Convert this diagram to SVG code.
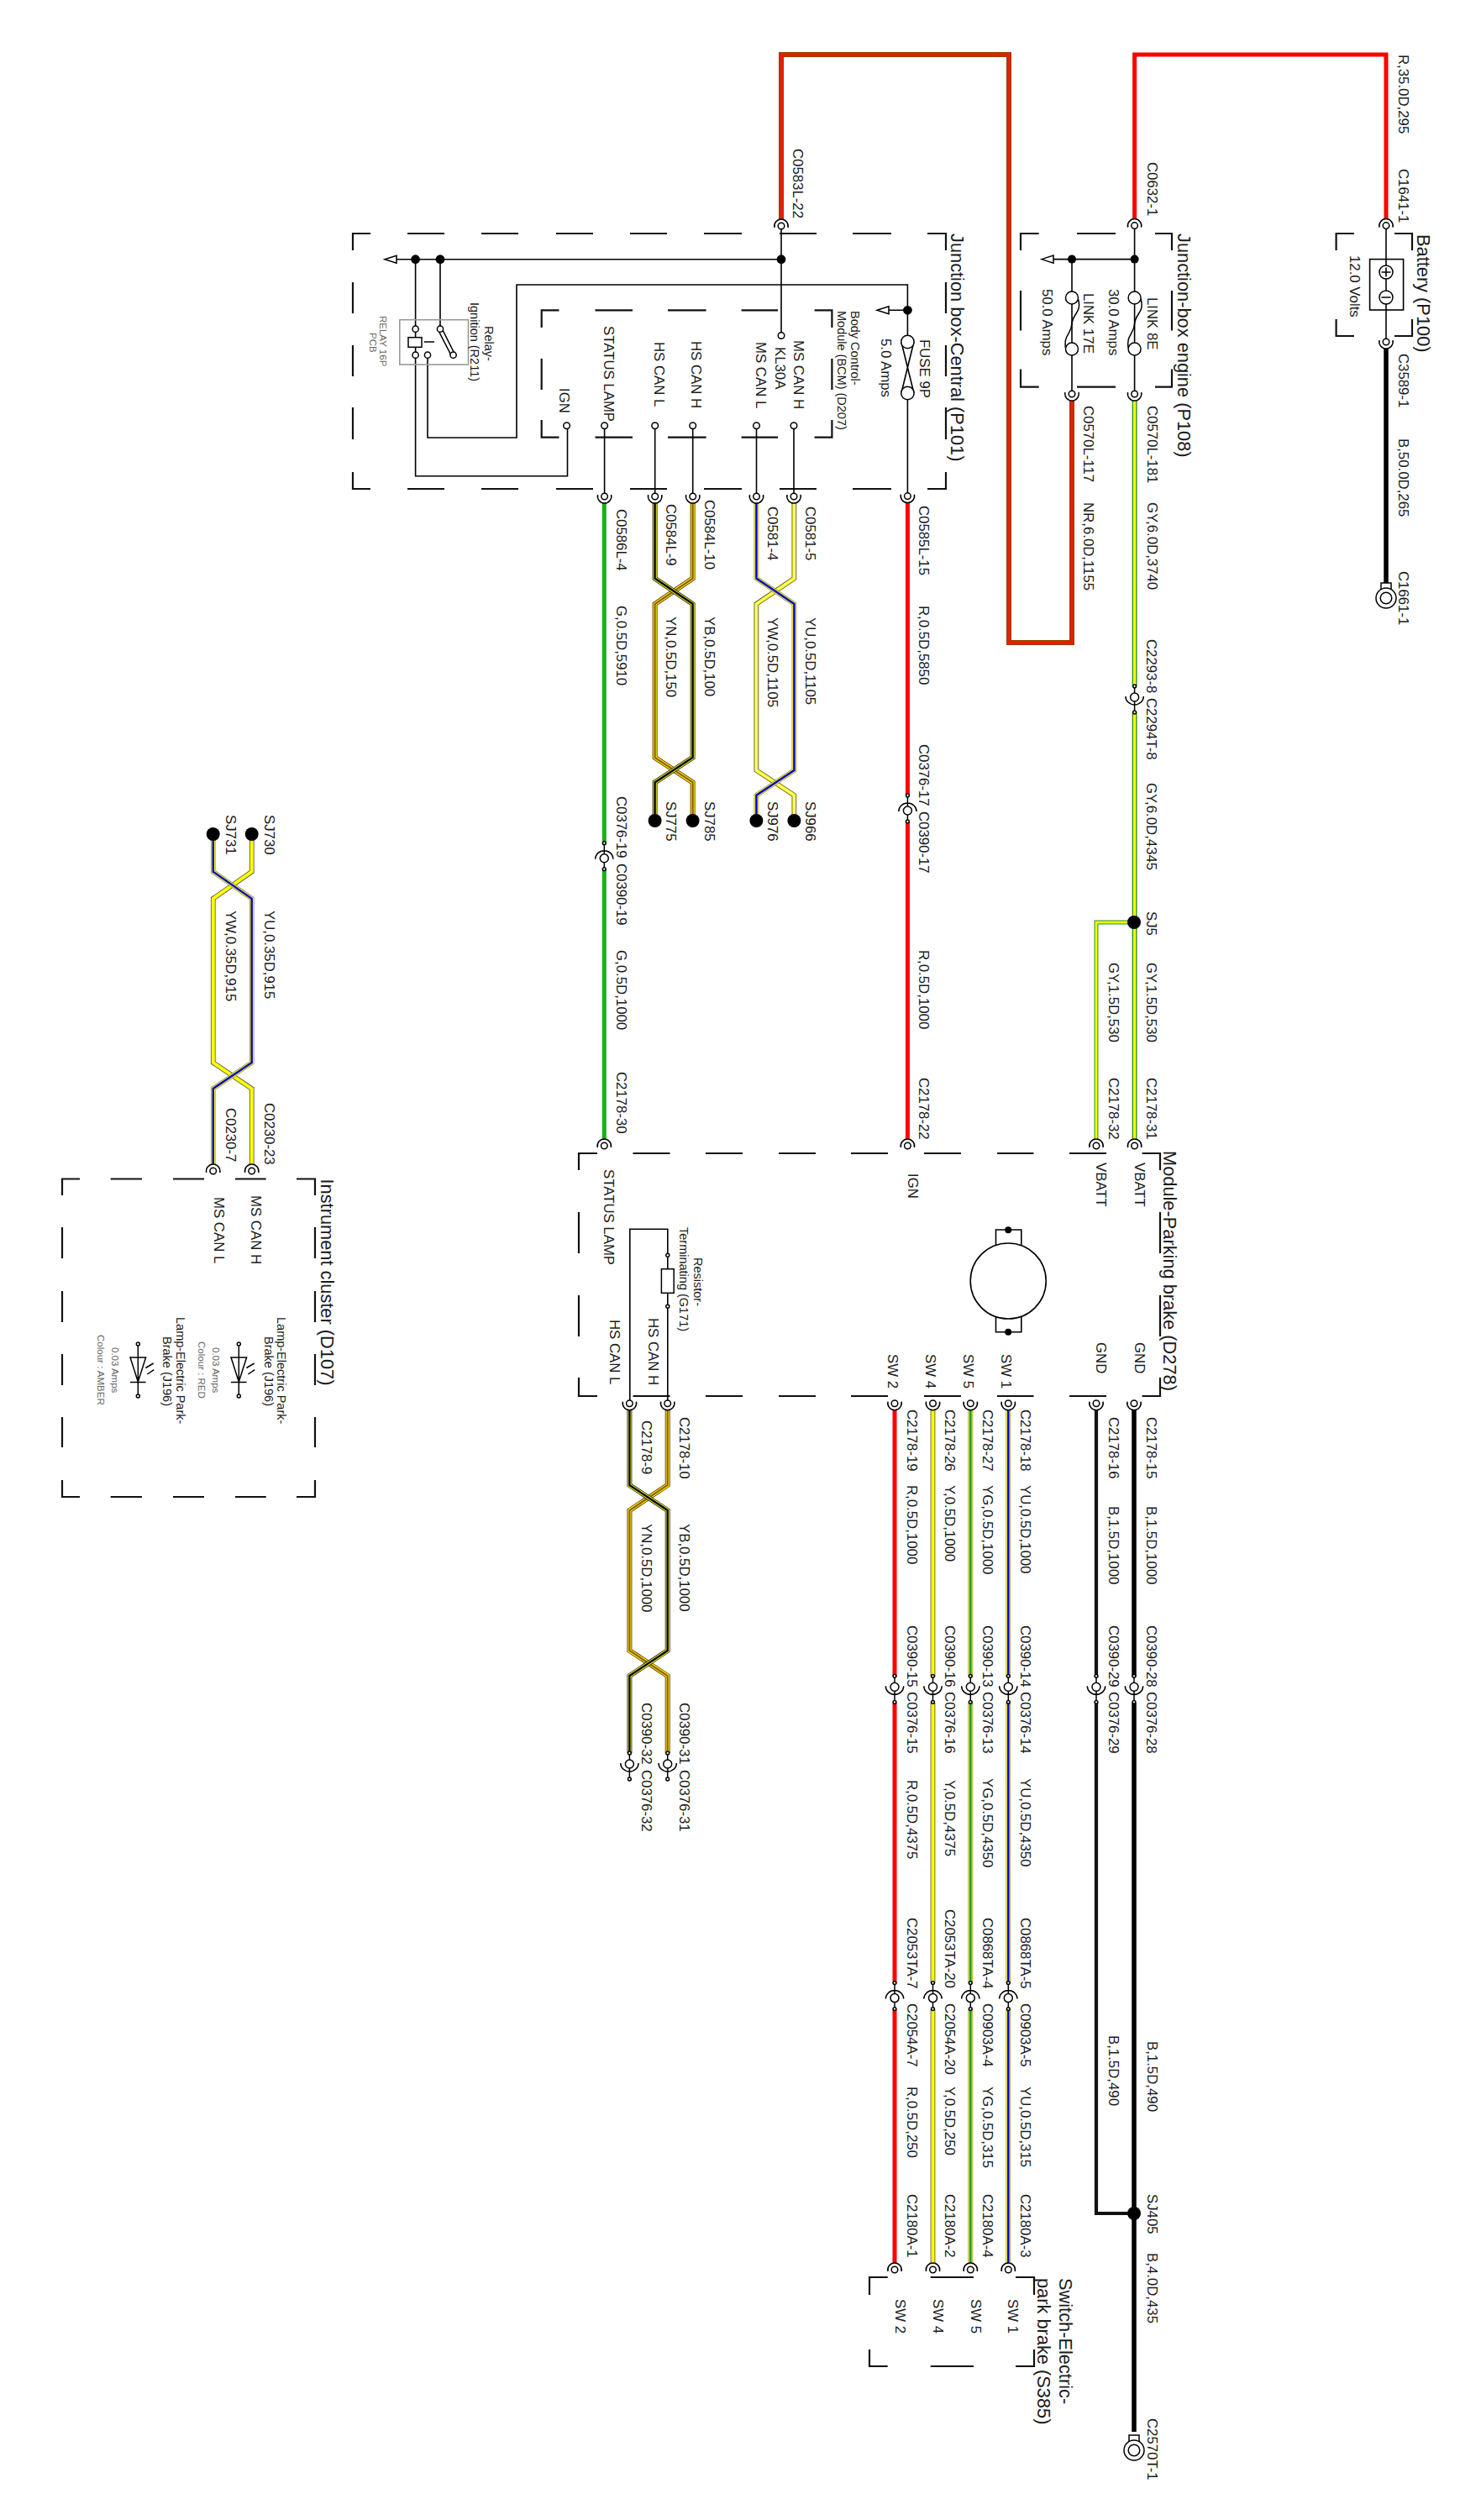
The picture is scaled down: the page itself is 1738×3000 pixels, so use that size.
<svg xmlns="http://www.w3.org/2000/svg" xmlns:xlink="http://www.w3.org/1999/xlink" width="1738" height="3000" viewBox="0 0 1738 3000">
<style>
text{font-family:"Liberation Sans",Arial,sans-serif;font-size:16.8px;fill:#1a1a1a}
text.h{font-size:21.8px}
text.s{font-size:14.5px}
text.n{font-size:11.5px;fill:#666}
.w{fill:none;stroke-linejoin:miter}
.box{fill:none;stroke:#111;stroke-width:2.2}
.thin{fill:none;stroke:#000;stroke-width:1.6}
.sym{fill:none;stroke:#000;stroke-width:1.5}
.sym circle,.t{fill:#fff;stroke:#000;stroke-width:1.5}
.dot{fill:#000}
.r{stroke:#f00;stroke-width:5}
.g{stroke:#18b018;stroke-width:5}
.bk{stroke:#000;stroke-width:5.5}
.bk4{stroke:#111;stroke-width:4.2}
.nr0{stroke:#7a4a00;stroke-width:6}.nr1{stroke:#e42000;stroke-width:4.4}
.gy0{stroke:#3f9a22;stroke-width:6}.gy1{stroke:#ff0;stroke-width:3}
.gs0{stroke:#4aa02a;stroke-width:5}.gs1{stroke:#ff0;stroke-width:2.6}
.y0{stroke:#333;stroke-width:5.6}.y1{stroke:#ff0;stroke-width:4.2}.y2{stroke:#ffffb0;stroke-width:1.4}
.yg0{stroke:#999;stroke-width:6}.yg1{stroke:#e6e600;stroke-width:4.6}.yg2{stroke:#16a016;stroke-width:2.4}
.yu0{stroke:#777;stroke-width:5.6}.yu1{stroke:#ff0;stroke-width:4.4}.yu2{stroke:#0000e0;stroke-width:2.4}
.yb2{stroke:#000;stroke-width:2.4}
.yn0{stroke:#5a4000;stroke-width:6}.yn2{stroke:#965a00;stroke-width:2.2}
.yb0{stroke:#333;stroke-width:6}
</style>
<defs>
<g id="cu" class="sym"><path d="M-8 2A8.2 8.2 0 1 1 8 2"/><circle r="3.8"/></g>
<g id="cd" class="sym"><path d="M-8 -2A8.2 8.2 0 1 0 8 -2"/><circle r="3.8"/></g>
<g id="iu" class="sym"><path d="M0 -18V13M-10.7 1A10.7 10 0 0 1 10.7 1"/><circle r="5"/><circle cy="-18" r="1.9"/><circle cy="13" r="1.9"/></g>
<g id="id" class="sym"><path d="M0 -13V18M-10.7 -1A10.7 10 0 0 0 10.7 -1"/><circle r="5"/><circle cy="-13" r="1.9"/><circle cy="18" r="1.9"/></g>
<path id="arr" class="t" d="M0 0L14 -4.5V4.5Z"/>
<g id="lug" class="sym"><rect x="-6" y="0" width="12" height="8"/><circle cy="18" r="12"/><circle cy="18" r="6.8"/></g>
<g id="led" class="sym"><path d="M0 1600V1662M-9.3 1616H9.3L0 1645ZM-9.3 1645.6H9.3M9 1628.5L18.4 1623M11 1636L19 1630.6"/><circle cy="1600" r="2"/><circle cy="1662" r="2"/></g>
<g id="fl" class="sym"><path d="M7.5 1.5C12 18 1 18 0 31C-1 44 -10 44 -7.5 60"/><circle r="7.5"/><circle cy="61" r="7.5"/></g>
<path id="p1" d="M779.6 599V688.6L824.6 719V901.8L779.6 931.4V977"/>
<path id="p2" d="M824.6 599V688.6L779.6 719V901.8L824.6 931.4V977"/>
<path id="p3" d="M900.4 599V688.6L945.4 719V917L900.4 946.7V977"/>
<path id="p4" d="M945.4 599V688.6L900.4 719V917L945.4 946.7V977"/>
<path id="p5" d="M749.4 1679V1768L794.7 1798V1965L749.4 1995V2087"/>
<path id="p6" d="M794.7 1679V1768L749.4 1798V1965L794.7 1995V2087"/>
<path id="p7" d="M253.7 1386V1296L299.7 1265V1069.8L253.7 1037.7V993"/>
<path id="p8" d="M299.7 1386V1296L253.7 1265V1069.8L299.7 1037.7V993"/>
</defs>

<g id="connectors">
<path class="w r" d="M1350.6 261V65H1650V261"/>
<path class="w bk" d="M1650 415V694"/>
<path class="w nr0" d="M930 261V65H1201V765H1276V477"/><path class="w nr1" d="M930 261V65H1201V765H1276V477"/>
<path class="w gy0" d="M1350.6 477V817M1350.6 848V1356"/><path class="w gy1" d="M1350.6 477V817M1350.6 848V1356"/>
<path class="w gs0" d="M1350 1098H1305V1356"/><path class="w gs1" d="M1350 1098H1305V1356"/>
<path class="w r" d="M1080.4 598V947M1080.4 978V1356"/>
<path class="w g" d="M719.3 599V1003.7M719.3 1034.4V1356"/>
<use href="#p2" class="w yn0"/><use href="#p2" class="w y1"/><use href="#p2" class="w yn2"/>
<use href="#p1" class="w yb0"/><use href="#p1" class="w y1"/><use href="#p1" class="w yb2"/>
<use href="#p4" class="w y0"/><use href="#p4" class="w y1"/><use href="#p4" class="w y2"/>
<use href="#p3" class="w yu0"/><use href="#p3" class="w yu1"/><use href="#p3" class="w yu2"/>
<use href="#p6" class="w yn0"/><use href="#p6" class="w y1"/><use href="#p6" class="w yn2"/>
<use href="#p5" class="w yb0"/><use href="#p5" class="w y1"/><use href="#p5" class="w yb2"/>
<use href="#p8" class="w y0"/><use href="#p8" class="w y1"/>
<use href="#p7" class="w yu0"/><use href="#p7" class="w yu1"/><use href="#p7" class="w yu2"/>
<path class="w r" d="M1065 1679V1996M1065 2027V2361M1065 2392V2694"/>
<path class="w y0" d="M1110.5 1679V1996M1110.5 2027V2361M1110.5 2392V2694"/><path class="w y1" d="M1110.5 1679V1996M1110.5 2027V2361M1110.5 2392V2694"/>
<path class="w yg0" d="M1155.3 1679V1996M1155.3 2027V2361M1155.3 2392V2694"/><path class="w yg1" d="M1155.3 1679V1996M1155.3 2027V2361M1155.3 2392V2694"/><path class="w yg2" d="M1155.3 1679V1996M1155.3 2027V2361M1155.3 2392V2694"/>
<path class="w yu0" d="M1200.3 1679V1996M1200.3 2027V2361M1200.3 2392V2694"/><path class="w yu1" d="M1200.3 1679V1996M1200.3 2027V2361M1200.3 2392V2694"/><path class="w yu2" d="M1200.3 1679V1996M1200.3 2027V2361M1200.3 2392V2694"/>
<path class="w bk4" d="M1305 1679V1996M1305 2027V2635H1350"/>
<path class="w bk" d="M1350 1679V1996M1350 2027V2895"/>
</g>

<g id="wire-labels">
<text x="1665" y="65" transform="rotate(90 1665 65)">R,35.0D,295</text>
<text x="1665" y="201" transform="rotate(90 1665 201)">C1641-1</text>
<text x="1665" y="421" transform="rotate(90 1665 421)">C3589-1</text>
<text x="1665" y="522" transform="rotate(90 1665 522)">B,50.0D,265</text>
<text x="1665" y="680" transform="rotate(90 1665 680)">C1661-1</text>
<text x="1366" y="193" transform="rotate(90 1366 193)">C0632-1</text>
<text x="1366" y="483" transform="rotate(90 1366 483)">C0570L-181</text>
<text x="1366" y="598" transform="rotate(90 1366 598)">GY,6.0D,3740</text>
<text x="1290" y="483" transform="rotate(90 1290 483)">C0570L-117</text>
<text x="1290" y="598" transform="rotate(90 1290 598)">NR,6.0D,1155</text>
<text x="944" y="177" transform="rotate(90 944 177)">C0583L-22</text>
<text x="1365" y="761" transform="rotate(90 1365 761)">C2293-8</text>
<text x="1365" y="831" transform="rotate(90 1365 831)">C2294T-8</text>
<text x="1365" y="932" transform="rotate(90 1365 932)">GY,6.0D,4345</text>
<text x="1365" y="1085" transform="rotate(90 1365 1085)">SJ5</text>
<text x="1365" y="1146" transform="rotate(90 1365 1146)">GY,1.5D,530</text>
<text x="1365" y="1283" transform="rotate(90 1365 1283)">C2178-31</text>
<text x="1320" y="1146" transform="rotate(90 1320 1146)">GY,1.5D,530</text>
<text x="1320" y="1283" transform="rotate(90 1320 1283)">C2178-32</text>
<text x="1094" y="602" transform="rotate(90 1094 602)">C0585L-15</text>
<text x="1094" y="721" transform="rotate(90 1094 721)">R,0.5D,5850</text>
<text x="1094" y="886" transform="rotate(90 1094 886)">C0376-17</text>
<text x="1094" y="966" transform="rotate(90 1094 966)">C0390-17</text>
<text x="1094" y="1131" transform="rotate(90 1094 1131)">R,0.5D,1000</text>
<text x="1094" y="1283" transform="rotate(90 1094 1283)">C2178-22</text>
<text x="734" y="606" transform="rotate(90 734 606)">C0586L-4</text>
<text x="734" y="721" transform="rotate(90 734 721)">G,0.5D,5910</text>
<text x="734" y="948" transform="rotate(90 734 948)">C0376-19</text>
<text x="734" y="1028" transform="rotate(90 734 1028)">C0390-19</text>
<text x="734" y="1131" transform="rotate(90 734 1131)">G,0.5D,1000</text>
<text x="734" y="1276" transform="rotate(90 734 1276)">C2178-30</text>
<text x="793" y="600" transform="rotate(90 793 600)">C0584L-9</text>
<text x="793" y="734" transform="rotate(90 793 734)">YN,0.5D,150</text>
<text x="793" y="954" transform="rotate(90 793 954)">SJ775</text>
<text x="839" y="595" transform="rotate(90 839 595)">C0584L-10</text>
<text x="839" y="734" transform="rotate(90 839 734)">YB,0.5D,100</text>
<text x="839" y="954" transform="rotate(90 839 954)">SJ785</text>
<text x="914" y="603" transform="rotate(90 914 603)">C0581-4</text>
<text x="914" y="735" transform="rotate(90 914 735)">YW,0.5D,1105</text>
<text x="914" y="954" transform="rotate(90 914 954)">SJ976</text>
<text x="959" y="603" transform="rotate(90 959 603)">C0581-5</text>
<text x="959" y="735" transform="rotate(90 959 735)">YU,0.5D,1105</text>
<text x="959" y="954" transform="rotate(90 959 954)">SJ966</text>
<text x="1365" y="1687" transform="rotate(90 1365 1687)">C2178-15</text>
<text x="1365" y="1793" transform="rotate(90 1365 1793)">B,1.5D,1000</text>
<text x="1365" y="1935" transform="rotate(90 1365 1935)">C0390-28</text>
<text x="1365" y="2014" transform="rotate(90 1365 2014)">C0376-28</text>
<text x="1320" y="1687" transform="rotate(90 1320 1687)">C2178-16</text>
<text x="1320" y="1793" transform="rotate(90 1320 1793)">B,1.5D,1000</text>
<text x="1320" y="1935" transform="rotate(90 1320 1935)">C0390-29</text>
<text x="1320" y="2014" transform="rotate(90 1320 2014)">C0376-29</text>
<text x="1215" y="1678" transform="rotate(90 1215 1678)">C2178-18</text>
<text x="1215" y="1768" transform="rotate(90 1215 1768)">YU,0.5D,1000</text>
<text x="1215" y="1935" transform="rotate(90 1215 1935)">C0390-14</text>
<text x="1215" y="2014" transform="rotate(90 1215 2014)">C0376-14</text>
<text x="1215" y="2117" transform="rotate(90 1215 2117)">YU,0.5D,4350</text>
<text x="1215" y="2283" transform="rotate(90 1215 2283)">C0868TA-5</text>
<text x="1215" y="2385" transform="rotate(90 1215 2385)">C0903A-5</text>
<text x="1215" y="2484" transform="rotate(90 1215 2484)">YU,0.5D,315</text>
<text x="1215" y="2612" transform="rotate(90 1215 2612)">C2180A-3</text>
<text x="1170" y="1678" transform="rotate(90 1170 1678)">C2178-27</text>
<text x="1170" y="1768" transform="rotate(90 1170 1768)">YG,0.5D,1000</text>
<text x="1170" y="1935" transform="rotate(90 1170 1935)">C0390-13</text>
<text x="1170" y="2014" transform="rotate(90 1170 2014)">C0376-13</text>
<text x="1170" y="2117" transform="rotate(90 1170 2117)">YG,0.5D,4350</text>
<text x="1170" y="2283" transform="rotate(90 1170 2283)">C0868TA-4</text>
<text x="1170" y="2385" transform="rotate(90 1170 2385)">C0903A-4</text>
<text x="1170" y="2484" transform="rotate(90 1170 2484)">YG,0.5D,315</text>
<text x="1170" y="2612" transform="rotate(90 1170 2612)">C2180A-4</text>
<text x="1125" y="1678" transform="rotate(90 1125 1678)">C2178-26</text>
<text x="1125" y="1768" transform="rotate(90 1125 1768)">Y,0.5D,1000</text>
<text x="1125" y="1935" transform="rotate(90 1125 1935)">C0390-16</text>
<text x="1125" y="2014" transform="rotate(90 1125 2014)">C0376-16</text>
<text x="1125" y="2119" transform="rotate(90 1125 2119)">Y,0.5D,4375</text>
<text x="1125" y="2273" transform="rotate(90 1125 2273)">C2053TA-20</text>
<text x="1125" y="2385" transform="rotate(90 1125 2385)">C2054A-20</text>
<text x="1125" y="2484" transform="rotate(90 1125 2484)">Y,0.5D,250</text>
<text x="1125" y="2612" transform="rotate(90 1125 2612)">C2180A-2</text>
<text x="1080" y="1678" transform="rotate(90 1080 1678)">C2178-19</text>
<text x="1080" y="1768" transform="rotate(90 1080 1768)">R,0.5D,1000</text>
<text x="1080" y="1935" transform="rotate(90 1080 1935)">C0390-15</text>
<text x="1080" y="2014" transform="rotate(90 1080 2014)">C0376-15</text>
<text x="1080" y="2119" transform="rotate(90 1080 2119)">R,0.5D,4375</text>
<text x="1080" y="2283" transform="rotate(90 1080 2283)">C2053TA-7</text>
<text x="1080" y="2385" transform="rotate(90 1080 2385)">C2054A-7</text>
<text x="1080" y="2484" transform="rotate(90 1080 2484)">R,0.5D,250</text>
<text x="1080" y="2612" transform="rotate(90 1080 2612)">C2180A-1</text>
<text x="809" y="1687" transform="rotate(90 809 1687)">C2178-10</text>
<text x="809" y="1814" transform="rotate(90 809 1814)">YB,0.5D,1000</text>
<text x="809" y="2027" transform="rotate(90 809 2027)">C0390-31</text>
<text x="809" y="2107" transform="rotate(90 809 2107)">C0376-31</text>
<text x="764" y="1691" transform="rotate(90 764 1691)">C2178-9</text>
<text x="764" y="1814" transform="rotate(90 764 1814)">YN,0.5D,1000</text>
<text x="764" y="2027" transform="rotate(90 764 2027)">C0390-32</text>
<text x="764" y="2107" transform="rotate(90 764 2107)">C0376-32</text>
<text x="1366" y="2430" transform="rotate(90 1366 2430)">B,1.5D,490</text>
<text x="1320" y="2423" transform="rotate(90 1320 2423)">B,1.5D,490</text>
<text x="1366" y="2612" transform="rotate(90 1366 2612)">SJ405</text>
<text x="1366" y="2682" transform="rotate(90 1366 2682)">B,4.0D,435</text>
<text x="1366" y="2879" transform="rotate(90 1366 2879)">C2570T-1</text>
<text x="315" y="970" transform="rotate(90 315 970)">SJ730</text>
<text x="269" y="970" transform="rotate(90 269 970)">SJ731</text>
<text x="315" y="1084" transform="rotate(90 315 1084)">YU,0.35D,915</text>
<text x="269" y="1084" transform="rotate(90 269 1084)">YW,0.35D,915</text>
<text x="315" y="1313" transform="rotate(90 315 1313)">C0230-23</text>
<text x="269" y="1319" transform="rotate(90 269 1319)">C0230-7</text>
</g>

<g id="splices">
<use href="#iu" x="1080.4" y="965"/><use href="#iu" x="719.3" y="1021.7"/>
<use href="#id" x="1350.6" y="830"/>
<use href="#id" x="1350" y="2008.3"/><use href="#id" x="1305" y="2008.3"/><use href="#id" x="1200.3" y="2008.3"/><use href="#id" x="1155.3" y="2008.3"/><use href="#id" x="1110.5" y="2008.3"/><use href="#id" x="1065" y="2008.3"/>
<use href="#id" x="794.7" y="2100"/><use href="#id" x="749.4" y="2100"/>
<use href="#iu" x="1200.3" y="2378.6"/><use href="#iu" x="1155.3" y="2378.6"/><use href="#iu" x="1110.5" y="2378.6"/><use href="#iu" x="1065" y="2378.6"/>
<circle class="dot" cx="1350" cy="1098" r="8"/><circle class="dot" cx="1350" cy="2635" r="8"/>
<circle class="dot" cx="779.6" cy="977" r="8"/><circle class="dot" cx="824.6" cy="977" r="8"/><circle class="dot" cx="900.4" cy="977" r="8"/><circle class="dot" cx="945.4" cy="977" r="8"/>
<circle class="dot" cx="253.7" cy="993" r="8"/><circle class="dot" cx="299.7" cy="993" r="8"/>
<use href="#lug" x="1650" y="694"/><use href="#lug" x="1350" y="2899"/>
</g>

<g id="battery">
<path class="box" d="M1612 278H1590.6V298M1590.6 380V400H1612M1660 278H1681V298M1681 380V400H1660"/>
<rect class="thin" x="1630.6" y="308.6" width="40" height="60.4"/>
<path class="thin" d="M1650 269V407"/>
<circle class="t" cx="1650" cy="324" r="8"/><circle class="t" cx="1650" cy="354" r="8"/>
<path class="thin" d="M1644.5 324H1655.5M1650 318.5V329.5M1644.5 354H1655.5"/>
<use href="#cu" x="1650" y="268.6"/><use href="#cd" x="1650" y="407"/>
<text class="h" x="1687" y="279" transform="rotate(90 1687 279)">Battery (P100)</text>
<text x="1607" y="304" transform="rotate(90 1607 304)">12.0 Volts</text>
</g>

<g id="junction-box-engine">
<path class="box" d="M1236.7 278H1215V298M1282 278H1328M1375 278H1395V298M1215 346V393.5M1395 346V393.5M1215 439.5V460.6H1236.7M1282 460.6H1328M1375 460.6H1395V439.5"/>
<path class="thin" d="M1350.6 268V469M1276 308.6V469M1254 308.6H1350.6"/>
<use href="#arr" x="1240" y="308.6"/>
<circle class="dot" cx="1350.6" cy="308.6" r="5"/><circle class="dot" cx="1276" cy="308.6" r="5"/>
<use href="#fl" x="1350.6" y="354.5"/><use href="#fl" x="1276" y="354.5"/>
<use href="#cu" x="1350.6" y="268.6"/><use href="#cd" x="1350.6" y="469"/><use href="#cd" x="1276" y="469"/>
<text class="h" x="1402" y="278" transform="rotate(90 1402 278)">Junction-box engine (P108)</text>
<text x="1366" y="354" transform="rotate(90 1366 354)">LINK 8E</text>
<text x="1320" y="344" transform="rotate(90 1320 344)">30.0 Amps</text>
<text x="1290" y="349" transform="rotate(90 1290 349)">LINK 17E</text>
<text x="1241" y="344" transform="rotate(90 1241 344)">50.0 Amps</text>
</g>

<g id="junction-box-central">
<path class="box" d="M441 278H420V298M485 278H529M573 278H617M662 278H706M750 278H794M838 278H883M928 278H972M1015 278H1061M1104 278H1126V298M420 336V373M420 411V448M420 485V523M420 562V582H441M1126 336V373M1126 411V448M1126 485V523M1126 562V582H1104M485 582H529M573 582H617M662 582H706M750 582H794M838 582H883M928 582H972M1015 582H1061"/>
<path class="thin" d="M930 269V396M471 308.7H930M494.6 308.7V388M524 308.7V388M494.6 426V566.7H675.5V510.5M509 426V521H615V339H1080.4V399M1080.4 476V591.7M1058 369.3H1080.4"/>
<use href="#arr" x="458" y="308.7"/><use href="#arr" x="1044" y="369.3"/>
<circle class="dot" cx="930" cy="308.7" r="5.4"/><circle class="dot" cx="494.6" cy="308.7" r="5.4"/><circle class="dot" cx="524" cy="308.7" r="5.4"/><circle class="dot" cx="1080.4" cy="369.3" r="5.4"/>
<path class="thin" d="M1072.9 407L1087.9 468M1087.9 407L1072.9 468"/>
<circle class="t" cx="1080.4" cy="407" r="7.7"/><circle class="t" cx="1080.4" cy="468" r="7.7"/>
<use href="#cu" x="930" y="269"/><use href="#cd" x="1080.4" y="590.6"/>
<text class="h" x="1132" y="278" transform="rotate(90 1132 278)">Junction box-Central (P101)</text>
<text x="1095" y="404" transform="rotate(90 1095 404)">FUSE 9P</text>
<text x="1049" y="403" transform="rotate(90 1049 403)">5.0 Amps</text>
</g>

<g id="relay-ignition">
<rect x="475.8" y="380.7" width="81.7" height="53.3" fill="none" stroke="#999" stroke-width="1.6"/>
<rect class="t" x="486" y="401.7" width="16" height="11.6" stroke-width="2"/>
<path class="thin" d="M494.6 391.7V401.7M494.6 413V422.7M504.7 407H517M521.6 393L537.6 424M526 391L541.6 422"/>
<circle class="t" cx="494.6" cy="391.7" r="3.6"/><circle class="t" cx="524" cy="391.7" r="3.6"/><circle class="t" cx="494.6" cy="422.7" r="3.6"/><circle class="t" cx="509" cy="422.7" r="3.6"/><circle class="t" cx="539.6" cy="422.7" r="3.6"/>
<text class="s" x="577" y="388" transform="rotate(90 577 388)">Relay-</text>
<text class="s" x="560" y="360" transform="rotate(90 560 360)">Ignition (R211)</text>
<text class="n" x="452" y="376" transform="rotate(90 452 376)">RELAY 16P</text>
<text class="n" x="440" y="396" transform="rotate(90 440 396)">PCB</text>
</g>

<g id="bcm">
<path class="box" d="M665.5 369.3H644.7V390M708.5 369.3H753M795 369.3H840.6M882.6 369.3H926M969.6 369.3H990.4V390M644.7 427V464M990.4 427V464M644.7 500V520.7H665.5M708.5 520.7H753M795 520.7H840.6M882.6 520.7H926M969.6 520.7H990.4V500"/>
<path class="thin" d="M719.6 507V591M779.7 507V591M824.7 507V591M900.5 507V591M945 507V591"/>
<circle class="t" cx="930" cy="399.5" r="3.8"/>
<circle class="t" cx="674.6" cy="506.7" r="3.8"/><circle class="t" cx="719.6" cy="506.7" r="3.8"/><circle class="t" cx="779.7" cy="506.7" r="3.8"/><circle class="t" cx="824.7" cy="506.7" r="3.8"/><circle class="t" cx="900.5" cy="506.7" r="3.8"/><circle class="t" cx="945" cy="506.7" r="3.8"/>
<use href="#cd" x="719.6" y="591"/><use href="#cd" x="779.7" y="591"/><use href="#cd" x="824.7" y="591"/><use href="#cd" x="900.5" y="591"/><use href="#cd" x="945" y="591"/>
<text class="s" x="1013" y="370" transform="rotate(90 1013 370)">Body Control-</text>
<text class="s" x="997" y="370" transform="rotate(90 997 370)">Module (BCM) (D207)</text>
<text x="945" y="405" transform="rotate(90 945 405)">MS CAN H</text>
<text x="923" y="413" transform="rotate(90 923 413)">KL30A</text>
<text x="900" y="407" transform="rotate(90 900 407)">MS CAN L</text>
<text x="823" y="406" transform="rotate(90 823 406)">HS CAN H</text>
<text x="779" y="407" transform="rotate(90 779 407)">HS CAN L</text>
<text x="719" y="388" transform="rotate(90 719 388)">STATUS LAMP</text>
<text x="666" y="462" transform="rotate(90 666 462)">IGN</text>
</g>

<g id="module-parking-brake">
<path class="box" d="M711 1373H689V1393M753.5 1373H797.5M840 1373H884M927 1373H971M1013 1373H1057M1100 1373H1144M1187 1373H1230.5M1273 1373H1317M1359.6 1373H1381V1393M689 1443V1492M689 1542V1591M689 1640V1662H711M1381 1443V1492M1381 1542V1591M1381 1640V1662H1359.6M753.5 1662H797.5M840 1662H884M927 1662H971M1013 1662H1057M1100 1662H1144M1187 1662H1230.5M1273 1662H1317"/>
<use href="#cu" x="719.3" y="1364"/><use href="#cu" x="1080.4" y="1364"/><use href="#cu" x="1305" y="1364"/><use href="#cu" x="1350.6" y="1364"/>
<path class="thin" d="M749.8 1671V1463.3H794.8V1510.7M794.8 1539.3V1671"/>
<circle class="t" cx="794.8" cy="1494.3" r="2"/><circle class="t" cx="794.8" cy="1555.3" r="2"/>
<rect class="t" x="787.4" y="1510.7" width="14.8" height="28.6"/>
<use href="#cd" x="749.4" y="1670.7"/><use href="#cd" x="794.7" y="1670.7"/><use href="#cd" x="1065" y="1670.7"/><use href="#cd" x="1110.5" y="1670.7"/><use href="#cd" x="1155.3" y="1670.7"/><use href="#cd" x="1200.3" y="1670.7"/><use href="#cd" x="1305" y="1670.7"/><use href="#cd" x="1350" y="1670.7"/>
<circle class="thin" cx="1200.2" cy="1525" r="45"/>
<path class="thin" d="M1185.5 1482V1464H1215.8V1482M1185.5 1568V1585.7H1215.8V1568"/>
<circle class="dot" cx="1200.2" cy="1464.3" r="4"/><circle class="dot" cx="1200.2" cy="1585.7" r="4"/>
<text class="h" x="1385" y="1370" transform="rotate(90 1385 1370)">Module-Parking brake (D278)</text>
<text x="1351" y="1384" transform="rotate(90 1351 1384)">VBATT</text>
<text x="1305" y="1384" transform="rotate(90 1305 1384)">VBATT</text>
<text x="1351" y="1598" transform="rotate(90 1351 1598)">GND</text>
<text x="1305" y="1598" transform="rotate(90 1305 1598)">GND</text>
<text x="1081" y="1397" transform="rotate(90 1081 1397)">IGN</text>
<text x="719" y="1392" transform="rotate(90 719 1392)">STATUS LAMP</text>
<text class="s" x="825.5" y="1497" transform="rotate(90 825.5 1497)">Resistor-</text>
<text class="s" x="808.6" y="1461" transform="rotate(90 808.6 1461)">Terminating (G171)</text>
<text x="772" y="1569" transform="rotate(90 772 1569)">HS CAN H</text>
<text x="726" y="1571" transform="rotate(90 726 1571)">HS CAN L</text>
<text x="1192" y="1612" transform="rotate(90 1192 1612)">SW 1</text>
<text x="1147" y="1612" transform="rotate(90 1147 1612)">SW 5</text>
<text x="1102" y="1612" transform="rotate(90 1102 1612)">SW 4</text>
<text x="1057" y="1612" transform="rotate(90 1057 1612)">SW 2</text>
</g>

<g id="switch-park-brake">
<path class="box" d="M1056.7 2711H1035V2732M1107.7 2711H1159M1209 2711H1231V2732M1035 2797V2817H1056.7M1107.7 2817H1159M1209 2817H1231V2797"/>
<use href="#cu" x="1065" y="2702"/><use href="#cu" x="1110.5" y="2702"/><use href="#cu" x="1155.3" y="2702"/><use href="#cu" x="1200.3" y="2702"/>
<text class="h" x="1261" y="2712" transform="rotate(90 1261 2712)">Switch-Electric-</text>
<text class="h" x="1235" y="2712" transform="rotate(90 1235 2712)">park brake (S385)</text>
<text x="1200" y="2737" transform="rotate(90 1200 2737)">SW 1</text>
<text x="1155.7" y="2737" transform="rotate(90 1155.7 2737)">SW 5</text>
<text x="1110.7" y="2737" transform="rotate(90 1110.7 2737)">SW 4</text>
<text x="1065.7" y="2737" transform="rotate(90 1065.7 2737)">SW 2</text>
</g>

<g id="instrument-cluster">
<path class="box" d="M95 1403.5H74V1423M131.7 1403.5H169M206 1403.5H243M280 1403.5H316.7M353 1403.5H375V1423M74 1461V1498M74 1537V1574M74 1612V1649M74 1687V1723M74 1762V1782H95M375 1461V1498M375 1537V1574M375 1612V1649M375 1687V1723M375 1762V1782H353M131.7 1782H169M206 1782H243M280 1782H316.7"/>
<use href="#cu" x="253.7" y="1394"/><use href="#cu" x="299.7" y="1394"/>
<use href="#led" x="284.3"/><use href="#led" x="164.3"/>
<text class="h" x="382" y="1403.5" transform="rotate(90 382 1403.5)">Instrument cluster (D107)</text>
<text x="299" y="1423" transform="rotate(90 299 1423)">MS CAN H</text>
<text x="255" y="1425" transform="rotate(90 255 1425)">MS CAN L</text>
<text class="s" x="330" y="1568" transform="rotate(90 330 1568)">Lamp-Electric Park-</text>
<text class="s" x="315" y="1591" transform="rotate(90 315 1591)">Brake (J196)</text>
<text class="n" x="253" y="1604" transform="rotate(90 253 1604)">0.03 Amps</text>
<text class="n" x="236" y="1597" transform="rotate(90 236 1597)">Colour : RED</text>
<text class="s" x="210" y="1568" transform="rotate(90 210 1568)">Lamp-Electric Park-</text>
<text class="s" x="194" y="1591" transform="rotate(90 194 1591)">Brake (J196)</text>
<text class="n" x="133" y="1604" transform="rotate(90 133 1604)">0.03 Amps</text>
<text class="n" x="116" y="1589" transform="rotate(90 116 1589)">Colour : AMBER</text>
</g>
</svg>
